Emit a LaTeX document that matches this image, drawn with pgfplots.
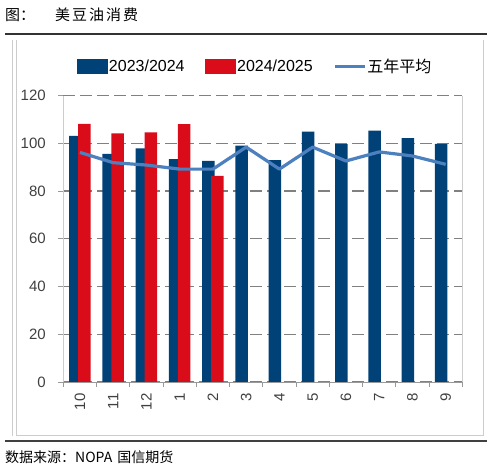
\documentclass[border=0pt]{standalone}
\usepackage{pgfplots}
\pgfplotsset{compat=1.18}
\usepackage{fontspec}
\setmainfont{Liberation Sans}
\newfontfamily\cjk{Noto Sans CJK SC}
\definecolor{barblue}{RGB}{0,65,120}
\definecolor{barred}{RGB}{218,12,26}
\definecolor{avgline}{RGB}{77,128,190}
\definecolor{ticktext}{RGB}{64,64,64}
\definecolor{framegray}{RGB}{205,205,205}
\definecolor{gridgray}{RGB}{128,128,128}
\begin{document}
\begin{tikzpicture}[x=1pt,y=1pt]
\useasboundingbox (0,0) rectangle (493,469);
% title and rules
\node[anchor=west, inner sep=0pt] at (5,454) {\cjk\fontsize{15}{15}\selectfont 图：\hspace{20pt}美\hspace{2pt}豆\hspace{2pt}油\hspace{2pt}消\hspace{2pt}费};
\draw[line width=1.2pt, black!80] (5,435) -- (487,435);
\draw[framegray, line width=0.8pt] (12,429) -- (12,33);
\draw[framegray, line width=0.8pt] (16,429) -- (16,34) -- (483,34) -- (483,429);
\draw[line width=1.5pt, black!75] (5,28) -- (487,28);
\node[anchor=west, inner sep=0pt] at (5,12) {\cjk\fontsize{14}{14}\selectfont 数据来源：NOPA\hspace{5pt}国信期货};
\begin{axis}[
  at={(63.3pt,87pt)}, anchor=south west,
  scale only axis, width=399pt, height=286.4pt,
  xmin=-0.5, xmax=11.5, ymin=0, ymax=120,
  ytick={0,20,...,120},
  xtick={-0.5,0.5,...,11.5}, xticklabels={},
  extra x ticks={0,1,2,3,4,5,6,7,8,9,10,11},
  extra x tick labels={10,11,12,1,2,3,4,5,6,7,8,9},
  extra x tick style={major tick length=0pt, grid=none},
  tick align=outside, major tick length=5pt,
  tick style={gray!80, line width=0.8pt},
  axis x line*=bottom, axis y line*=left,
  x axis line style={gray!80, line width=0.9pt},
  y axis line style={framegray, line width=0.9pt},
  ymajorgrids,
  major grid style={gridgray, line width=1.4pt, dash pattern=on 12pt off 5pt},
  /pgf/number format/assume math mode=true,
  yticklabel style={font=\fontsize{15}{15}\selectfont, text=ticktext, xshift=-9pt},
  xticklabel style={font=\fontsize{15}{15}\selectfont, text=ticktext, rotate=90, anchor=east, xshift=-8pt},
  legend columns=3,
  legend style={at={(0.0343,1.1016)}, anchor=west, draw=none, fill=none,
    inner sep=0pt, outer sep=0pt,
    font=\fontsize{16}{16}\selectfont,
    nodes={inner sep=1pt},
    /tikz/every even column/.append style={column sep=19.5pt}},
  clip=false,
]
\addplot[ybar, bar width=12.6pt, bar shift=-4.5pt, fill=barblue, draw=none,
  legend image code/.code={\fill[barblue] (0pt,-7.5pt) rectangle (31pt,7.5pt);}]
  coordinates {(0,103.1) (1,95.6) (2,97.9) (3,93.4) (4,92.7) (5,99.0) (6,93.0) (7,104.9) (8,99.7) (9,105.3) (10,102.2) (11,99.8)};
\addlegendentry{2023/2024}
\addplot[ybar, bar width=12.6pt, bar shift=4.5pt, fill=barred, draw=none,
  legend image code/.code={\fill[barred] (0pt,-7.5pt) rectangle (31pt,7.5pt);}]
  coordinates {(0,108.1) (1,104.2) (2,104.6) (3,108.0) (4,86.4)};
\addlegendentry{2024/2025}
\addplot[avgline, line width=3.2pt, line join=round, mark=none,
  legend image code/.code={\draw[avgline, line width=3.2pt] (0pt,0pt) -- (30pt,0pt);}]
  coordinates {(0,96.2) (1,91.9) (2,90.9) (3,89.2) (4,89.2) (5,98.4) (6,89.2) (7,98.4) (8,92.6) (9,96.4) (10,94.7) (11,91.2)};
\addlegendentry{\cjk 五年平均}
\draw[framegray, line width=0.9pt] (rel axis cs:1,0) -- (rel axis cs:1,1);
\end{axis}
\end{tikzpicture}
\end{document}
